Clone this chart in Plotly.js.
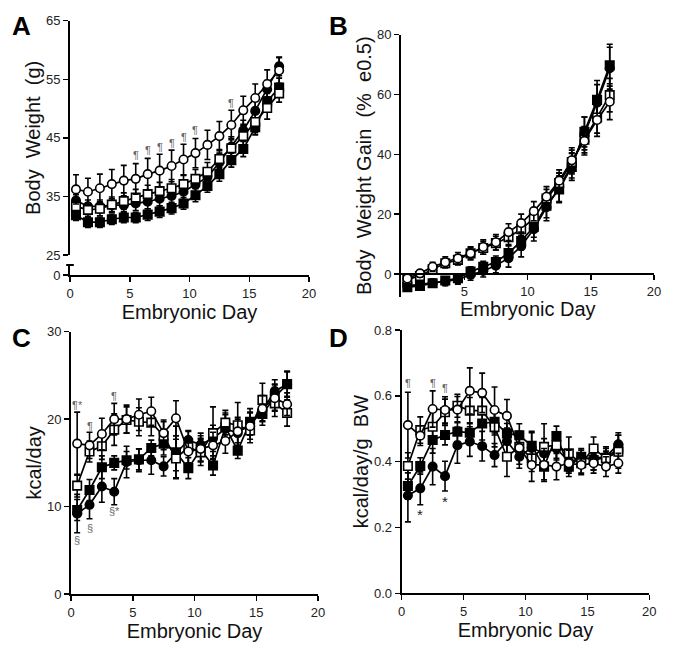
<!DOCTYPE html>
<html>
<head>
<meta charset="utf-8">
<script src="https://cdn.plot.ly/plotly-3.0.1.min.js"></script>
<style>html,body{margin:0;padding:0;background:#fff;}#chart{width:675px;height:648px;}</style>
</head>
<body>
<div id="chart"></div>
<script>
// ---------- categories ----------
const days18 = [0.5,1.5,2.5,3.5,4.5,5.5,6.5,7.5,8.5,9.5,10.5,11.5,12.5,13.5,14.5,15.5,16.5,17.5];
const days17 = [0.5,1.5,2.5,3.5,4.5,5.5,6.5,7.5,8.5,9.5,10.5,11.5,12.5,13.5,14.5,15.5,16.5];

// ---------- Panel A: Body weight (g) ----------
const openCircleA   = [36.2,35.8,36.4,37.1,37.7,38.0,38.8,39.4,40.2,41.3,42.4,43.8,45.3,47.2,49.7,51.8,54.2,56.5];
const openSquareA   = [33.3,32.7,32.9,33.6,34.2,34.8,35.4,35.9,36.4,37.1,38.0,39.2,41.4,43.2,45.3,47.7,50.1,52.6];
const filledCircleA = [34.3,33.3,33.3,33.5,33.5,33.8,34.1,34.6,35.1,35.8,37.0,38.3,40.8,43.5,46.3,49.6,53.3,57.2];
const filledSquareA = [31.8,30.6,30.6,31.1,31.4,31.4,31.9,32.4,33.0,33.8,35.2,36.8,38.8,41.2,43.1,46.8,51.2,53.6];
const errOpenCircleA   = [2.5,2.3,2.4,2.5,2.6,2.6,2.7,2.8,2.7,2.6,2.5,2.5,2.5,2.5,2.4,2.4,2.4,2.2];
const errOpenSquareA   = [1.2,1.1,1.2,1.3,1.4,1.4,1.5,1.5,1.5,1.5,1.6,1.6,1.6,1.7,1.8,1.8,1.9,1.5];
const errFilledCircleA = [1.0,1.1,1.1,1.1,1.1,1.2,1.2,1.2,1.3,1.4,1.4,1.5,1.6,1.7,1.7,1.6,1.5,1.6];
const errFilledSquareA = [0.9,0.9,0.9,0.9,0.9,0.9,1.0,1.0,1.0,1.0,1.1,1.1,1.2,1.2,1.3,1.3,1.4,1.6];
const annAx = [5.5,6.5,7.5,8.5,9.5,10.5,13.5];
const annAy = [42.1,42.9,43.5,44.1,45.2,46.3,50.9];
const annAtext = ["¶","¶","¶","¶","¶","¶","¶"];

// ---------- Panel B: Body weight gain (% e0.5) ----------
const openCircleB   = [-1.5,0.2,2.4,3.9,5.2,6.9,9.0,10.6,14.0,17.0,21.0,25.8,31.2,38.0,44.5,51.5,57.6];
const openSquareB   = [-1.8,-0.7,1.6,3.6,4.7,6.9,8.7,10.3,12.3,15.0,18.6,25.2,30.4,37.4,44.9,52.3,59.8];
const filledCircleB = [-4.0,-3.6,-3.0,-2.5,-1.8,-0.3,1.0,2.8,5.3,9.3,15.0,22.3,29.0,36.3,47.0,57.3,68.8];
const filledSquareB = [-4.4,-4.0,-3.1,-2.2,-1.4,0.8,2.4,4.0,7.0,11.0,15.8,22.8,28.3,35.8,47.5,58.2,69.8];
const errOpenCircleB   = [1.0,1.2,1.5,1.8,2.0,2.2,2.4,2.6,2.8,3.0,3.2,3.4,3.6,4.2,4.7,5.5,6.0];
const errOpenSquareB   = [1.0,1.1,1.3,1.5,1.7,1.9,2.1,2.3,2.5,2.7,2.9,3.1,3.3,4.0,4.4,5.2,5.6];
const errFilledCircleB = [0.8,0.9,1.2,1.4,1.6,1.8,2.0,2.4,3.0,3.6,4.0,4.5,4.8,4.2,5.5,6.0,7.0];
const errFilledSquareB = [0.8,0.9,1.0,1.2,1.4,1.6,1.8,2.0,2.4,3.0,3.5,4.0,4.5,4.5,5.0,6.5,7.0];

// ---------- Panel C: kcal/day ----------
const openCircleC   = [17.2,17.0,18.3,20.0,20.0,20.5,20.9,18.4,20.1,16.3,16.6,17.0,17.5,18.6,19.2,21.2,22.4,21.7];
const openSquareC   = [12.4,16.3,16.9,18.8,19.9,19.7,19.6,18.1,15.5,16.8,16.2,18.4,19.6,19.3,18.7,22.2,21.8,20.7];
const filledCircleC = [9.2,10.2,12.3,11.7,15.1,15.3,15.3,14.6,16.1,17.6,17.1,17.8,18.9,18.4,19.5,21.0,23.2,24.0];
const filledSquareC = [9.6,11.9,14.5,15.0,15.3,15.4,16.7,17.2,16.2,14.4,16.5,14.7,19.1,16.4,19.7,20.6,22.5,24.0];
const errOpenCircleC   = [3.6,1.5,1.8,1.8,1.6,1.8,1.6,1.5,2.0,1.5,1.5,1.5,1.4,1.6,1.5,1.5,1.5,1.3];
const errOpenSquareC   = [1.3,1.2,1.5,1.8,1.5,1.6,1.5,1.6,2.2,1.8,1.5,3.0,1.4,2.6,1.4,1.9,1.5,1.5];
const errFilledCircleC = [2.2,1.6,1.8,1.5,1.8,1.3,1.6,1.1,2.0,1.1,1.3,1.5,1.8,1.6,1.3,1.2,1.3,1.4];
const errFilledSquareC = [1.2,1.2,1.3,0.8,1.0,1.2,0.9,1.3,3.0,1.2,1.3,1.1,1.4,0.9,1.5,1.3,1.5,1.5];
const annCx = [0.5,1.5,3.5,0.5,1.5,3.5];
const annCy = [21.6,19.2,22.6,6.2,7.5,9.5];
const annCtext = ["¶*","¶","¶","§","§","§*"];

// ---------- Panel D: kcal/day/g BW ----------
const openCircleD   = [0.511,0.479,0.560,0.557,0.558,0.615,0.609,0.557,0.539,0.442,0.390,0.390,0.385,0.395,0.390,0.395,0.385,0.395];
const openSquareD   = [0.387,0.496,0.506,0.550,0.570,0.555,0.555,0.505,0.415,0.445,0.410,0.445,0.450,0.425,0.395,0.440,0.410,0.430];
const filledCircleD = [0.297,0.319,0.385,0.356,0.450,0.461,0.447,0.420,0.462,0.415,0.442,0.425,0.440,0.400,0.410,0.410,0.415,0.453];
const filledSquareD = [0.326,0.387,0.466,0.481,0.491,0.488,0.516,0.521,0.486,0.480,0.448,0.385,0.478,0.385,0.415,0.405,0.412,0.440];
const errOpenCircleD   = [0.10,0.03,0.055,0.04,0.04,0.07,0.06,0.07,0.05,0.05,0.05,0.05,0.04,0.04,0.03,0.03,0.03,0.03];
const errOpenSquareD   = [0.04,0.04,0.05,0.04,0.035,0.04,0.04,0.06,0.06,0.04,0.04,0.07,0.04,0.05,0.03,0.035,0.03,0.05];
const errFilledCircleD = [0.08,0.05,0.055,0.045,0.055,0.045,0.045,0.035,0.04,0.035,0.05,0.045,0.035,0.03,0.03,0.035,0.03,0.035];
const errFilledSquareD = [0.04,0.025,0.04,0.03,0.03,0.03,0.05,0.04,0.03,0.035,0.04,0.04,0.03,0.02,0.02,0.03,0.02,0.04];
const annDx = [0.5,2.5,3.5,1.5,3.5];
const annDy = [0.64,0.64,0.625,0.24,0.278];
const annDtext = ["¶","¶","¶","*","*"];

// ---------- build ----------
const FONT = "Liberation Sans, Arial, sans-serif";
function series(x, y, err, symbol, filled, xa, ya) {
  return {
    type: "scatter", mode: "lines+markers", x: x, y: y, xaxis: xa, yaxis: ya,
    line: {color: "black", width: 1.7},
    marker: {symbol: symbol, size: 8.5, color: filled ? "black" : "white", line: {color: "black", width: 1.6}},
    error_y: {type: "data", array: err, visible: true, color: "black", thickness: 1.6, width: 3},
    showlegend: false, hoverinfo: "skip"
  };
}
function panel(x, fs, efs, fc, efc, os, eos, oc, eoc, xa, ya) {
  return [
    series(x, fs, efs, "square", true, xa, ya),
    series(x, fc, efc, "circle", true, xa, ya),
    series(x, os, eos, "square", false, xa, ya),
    series(x, oc, eoc, "circle", false, xa, ya)
  ];
}
const data = [].concat(
  panel(days18, filledSquareA, errFilledSquareA, filledCircleA, errFilledCircleA, openSquareA, errOpenSquareA, openCircleA, errOpenCircleA, "x", "y"),
  // empty trace so the lower (broken) segment of panel A's y axis is drawn
  [{type: "scatter", x: [], y: [], xaxis: "x", yaxis: "y5", showlegend: false, hoverinfo: "skip"}],
  panel(days17, filledSquareB, errFilledSquareB, filledCircleB, errFilledCircleB, openSquareB, errOpenSquareB, openCircleB, errOpenCircleB, "x2", "y2"),
  panel(days18, filledSquareC, errFilledSquareC, filledCircleC, errFilledCircleC, openSquareC, errOpenSquareC, openCircleC, errOpenCircleC, "x3", "y3"),
  panel(days18, filledSquareD, errFilledSquareD, filledCircleD, errFilledCircleD, openSquareD, errOpenSquareD, openCircleD, errOpenCircleD, "x4", "y4")
);

const axBase = {
  showline: true, linecolor: "black", linewidth: 2, ticks: "outside", ticklen: 5, tickwidth: 1.5,
  tickcolor: "black", showgrid: false, zeroline: false, fixedrange: true,
  tickfont: {family: FONT, size: 13, color: "#222"}
};
function ax(extra) { return Object.assign({}, axBase, extra); }
const TITLEFONT = {family: FONT, size: 20, color: "#111"};
function xTitle(s) { return {text: "Embryonic Day", font: TITLEFONT, standoff: s}; }
function yTitle(t, s) { return {text: t, font: TITLEFONT, standoff: s}; }

function anns(xs, ys, ts, xr, yr) {
  return xs.map((v, i) => ({
    x: v, y: ys[i], xref: xr, yref: yr, text: ts[i], showarrow: false,
    font: {family: FONT, size: ts[i] === "*" ? 15 : 11, color: ts[i] === "*" ? "#222" : "#666"}
  }));
}
const letters = [["A", 22, 26], ["B", 338, 26], ["C", 22, 338], ["D", 338, 338]].map(l => ({
  text: "<b>" + l[0] + "</b>", xref: "paper", yref: "paper", x: l[1] / 675, y: 1 - l[2] / 648,
  xanchor: "center", yanchor: "middle", showarrow: false, font: {family: FONT, size: 26, color: "black"}
}));
// Panel B x-axis title sits close under its floating axis, placed as an annotation
const titleB = {text: "Embryonic Day", xref: "x2 domain", yref: "paper", x: 0.5, y: 1 - 309/648,
  xanchor: "center", yanchor: "middle", showarrow: false, font: TITLEFONT};

const layout = {
  width: 675, height: 648, margin: {l: 0, r: 0, t: 0, b: 0},
  paper_bgcolor: "white", plot_bgcolor: "white", showlegend: false,
  font: {family: FONT},
  // Panel A
  xaxis: ax({domain: [70/675, 309/675], range: [0, 20], tickvals: [0,5,10,15,20], anchor: "y5", title: xTitle(0)}),
  yaxis: ax({domain: [1-255/648, 1-20.7/648], range: [25, 65], tickvals: [25,35,45,55,65], anchor: "x",
             title: yTitle("Body\u00a0 Weight\u00a0 (g)", 0)}),
  yaxis5: ax({domain: [1-275/648, 1-265/648], range: [0, 1], tickvals: [0], anchor: "x"}),
  // Panel B
  xaxis2: ax({domain: [401/675, 654/675], range: [0, 20], tickvals: [5,10,15,20], anchor: "free", position: 1-274/648}),
  yaxis2: ax({domain: [1-296.7/648, 1-34.7/648], range: [-7.6, 80], tickvals: [0,20,40,60,80], anchor: "x2",
              title: yTitle("Body\u00a0 Weight Gain\u00a0 (%\u00a0 e0.5)", 0)}),
  // Panel C
  xaxis3: ax({domain: [71/675, 318/675], range: [0, 20], tickvals: [0,5,10,15,20], anchor: "y3", title: xTitle(0)}),
  yaxis3: ax({domain: [1-594/648, 1-331.7/648], range: [0, 30], tickvals: [0,10,20,30], anchor: "x3",
              title: yTitle("kcal/day", 0)}),
  // Panel D
  xaxis4: ax({domain: [401.7/675, 649.3/675], range: [0, 20], tickvals: [0,5,10,15,20], anchor: "y4", title: xTitle(0)}),
  yaxis4: ax({domain: [1-593.3/648, 1-330/648], range: [0, 0.8], tickvals: [0,0.2,0.4,0.6,0.8], tickformat: ".1f", anchor: "x4",
              title: yTitle("kcal/day/g\u00a0 BW", 0)}),
  shapes: [{type: "line", xref: "x domain", yref: "y5 domain", x0: -0.016, x1: 0.016, y0: 1, y1: 1,
            line: {color: "black", width: 2}}],
  annotations: [].concat(
    anns(annAx, annAy, annAtext, "x", "y"),
    anns(annCx, annCy, annCtext, "x3", "y3"),
    anns(annDx, annDy, annDtext, "x4", "y4"),
    [titleB],
    letters
  )
};
Plotly.newPlot("chart", data, layout, {staticPlot: true, displayModeBar: false});
</script>
</body>
</html>
